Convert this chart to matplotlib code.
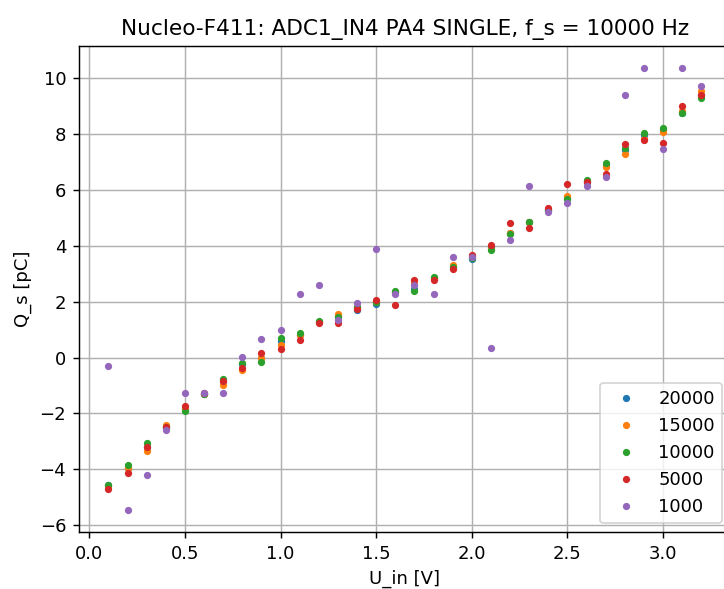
import matplotlib
matplotlib.use("Agg")
import matplotlib.pyplot as plt

U_IN = [0.1, 0.2, 0.3, 0.4, 0.5, 0.6, 0.7, 0.8, 0.9, 1.0, 1.1, 1.2, 1.3, 1.4, 1.5, 1.6,
        1.7, 1.8, 1.9, 2.0, 2.1, 2.2, 2.3, 2.4, 2.5, 2.6, 2.7, 2.8, 2.9, 3.0, 3.1, 3.2]

Q_20000 = [-4.58, -3.95, -3.20, -2.50, -1.85, -1.30, -0.85, -0.25, 0.00, 0.59, 0.80, 1.27,
           1.50, 1.69, 1.91, 2.35, 2.47, 2.85, 3.25, 3.53, 3.95, 4.45, 4.87, 5.30, 5.72, 6.30,
           6.90, 7.45, 7.98, 8.15, 8.75, 9.40]
Q_15000 = [-4.62, -3.95, -3.34, -2.42, -1.85, -1.30, -0.98, -0.43, -0.01, 0.44, 0.80, 1.27,
           1.55, 1.80, 1.98, 2.33, 2.67, 2.85, 3.30, 3.62, 3.90, 4.46, 4.85, 5.30, 5.77, 6.33,
           6.84, 7.31, 7.84, 8.07, 8.85, 9.54]
Q_10000 = [-4.58, -3.86, -3.08, -2.50, -1.93, -1.32, -0.76, -0.19, -0.17, 0.71, 0.87, 1.32,
           1.45, 1.82, 1.98, 2.37, 2.37, 2.88, 3.25, 3.56, 3.84, 4.43, 4.85, 5.28, 5.69, 6.37,
           6.98, 7.49, 8.03, 8.21, 8.75, 9.31]
Q_5000 = [-4.70, -4.14, -3.20, -2.50, -1.74, -1.27, -0.85, -0.36, 0.15, 0.30, 0.62, 1.22,
          1.22, 1.75, 2.05, 1.89, 2.79, 2.79, 3.17, 3.68, 4.03, 4.81, 4.64, 5.34, 6.23, 6.28,
          6.58, 7.64, 7.80, 7.70, 9.02, 9.41]
Q_1000 = [-0.32, -5.47, -4.20, -2.58, -1.27, -1.27, -1.27, 0.02, 0.67, 1.00, 2.29, 2.61,
          1.33, 1.95, 3.88, 2.26, 2.59, 2.26, 3.59, 3.59, 0.34, 4.21, 6.14, 5.20, 5.53, 6.14,
          6.48, 9.39, 10.38, 7.46, 10.38, 9.73]

SERIES = [("20000", Q_20000), ("15000", Q_15000), ("10000", Q_10000),
          ("5000", Q_5000), ("1000", Q_1000)]

DPI = 130
fig = plt.figure(figsize=(724 / DPI, 589 / DPI), dpi=DPI)
# axes run slightly past the right edge, as in the (cropped) reference
ax = fig.add_axes([0.1088, 0.0963, 0.9009, 0.8261])
for label, q in SERIES:
    ax.plot(U_IN, q, ".", label=label)
ax.grid(True)
ax.set_xlabel("U_in [V]")
ax.set_ylabel("Q_s [pC]")
ax.set_title("Nucleo-F411: ADC1_IN4 PA4 SINGLE, f_s = 10000 Hz")
ax.legend(loc="lower right")
fig.savefig("out.png", dpi=DPI)
